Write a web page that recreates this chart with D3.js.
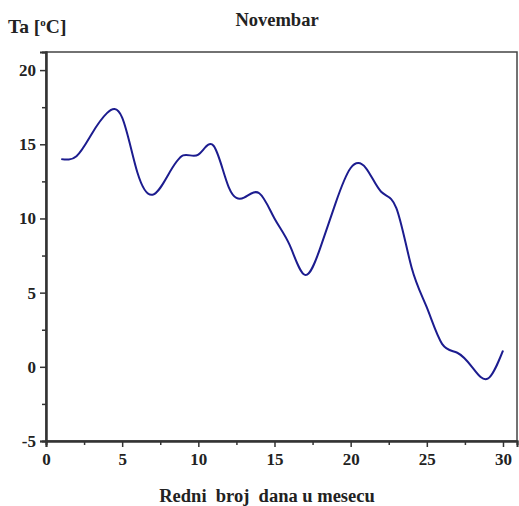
<!DOCTYPE html>
<html lang="sr">
<head>
    <meta charset="utf-8"/>
    <title>Novembar</title>
    <script src="https://d3js.org/d3.v7.min.js"></script>
    <style>
        body { margin: 0; background: #fff; }
        text { font-family: "Liberation Serif", "Times New Roman", serif; font-weight: bold; fill: #222; }
    </style>
</head>
<body>
<svg width="519" height="506"></svg>

<script>
    // podaci: redni broj dana i temperatura
    const dani = d3.range(1, 31);
    const temperature = [14.0, 14.2, 15.7, 17.1, 16.8, 13.1, 11.6, 12.9, 14.25, 14.3,
        14.9, 12.1, 11.4, 11.7, 10.0, 8.2, 6.2, 8.0, 11.0, 13.4,
        13.4, 11.8, 10.7, 6.7, 4.0, 1.55, 0.95, -0.05, -0.8, 1.1];
    const xTicks = [0, 5, 10, 15, 20, 25, 30];
    const yTicks = [-5, 0, 5, 10, 15, 20];

    const mLeft = 46, mRight = 517, mTop = 52, mBottom = 441;
    const svg = d3.select("svg");

    let x = d3.scaleLinear().domain([0, 30.92]).range([mLeft, mRight]);
    let y = d3.scaleLinear().domain([-5, 21.22]).range([mBottom, mTop]);

    // okvir
    svg.append("rect")
        .attr("x", mLeft).attr("y", mTop)
        .attr("width", mRight - mLeft).attr("height", mBottom - mTop)
        .attr("fill", "none").attr("stroke", "#444").attr("stroke-width", 1.5);

    // ose
    let xAxis = d3.axisBottom(x).tickValues(xTicks).tickSize(6).tickPadding(3).tickFormat(d => String(d));
    let xG = svg.append("g").attr("transform", "translate(0," + mBottom + ")").call(xAxis);
    xG.append("g").call(d3.axisBottom(x).tickValues(d3.range(2.5, 30, 5)).tickSize(4).tickFormat(""));

    let yAxis = d3.axisLeft(y).tickValues(yTicks).tickSize(6).tickPadding(4).tickFormat(d => String(d));
    let yG = svg.append("g").attr("transform", "translate(" + mLeft + ",0)").call(yAxis);
    yG.append("g").call(d3.axisLeft(y).tickValues(d3.range(-2.5, 20, 5)).tickSize(4).tickFormat(""));

    svg.selectAll("g").attr("font-family", null).attr("font-size", null);
    svg.selectAll(".domain").attr("stroke", "#333").attr("stroke-width", 2);
    svg.selectAll(".tick line").attr("stroke", "#333").attr("stroke-width", 1.5);
    svg.selectAll(".tick text").style("font-size", "17px").attr("fill", "#222");
    xG.selectAll(".tick text").attr("dy", "0.9em");

    // kriva
    let line = d3.line()
        .x((d, i) => x(dani[i]))
        .y(d => y(d))
        .curve(d3.curveNatural);

    svg.append("path")
        .attr("d", line(temperature))
        .attr("fill", "none")
        .attr("stroke", "#1c1c8f")
        .attr("stroke-width", 2);

    // naslovi
    svg.append("text").attr("x", 277).attr("y", 26)
        .attr("text-anchor", "middle").style("font-size", "18.5px").text("Novembar");

    let yl = svg.append("text").attr("x", 8).attr("y", 33).style("font-size", "19.5px");
    yl.append("tspan").text("Ta [");
    yl.append("tspan").attr("dy", -7).style("font-size", "11px").text("o");
    yl.append("tspan").attr("dy", 7).text("C]");

    svg.append("text").attr("x", 267).attr("y", 502)
        .attr("text-anchor", "middle").style("font-size", "18.5px")
        .attr("xml:space", "preserve").text("Redni  broj  dana u mesecu");
</script>
</body>
</html>
